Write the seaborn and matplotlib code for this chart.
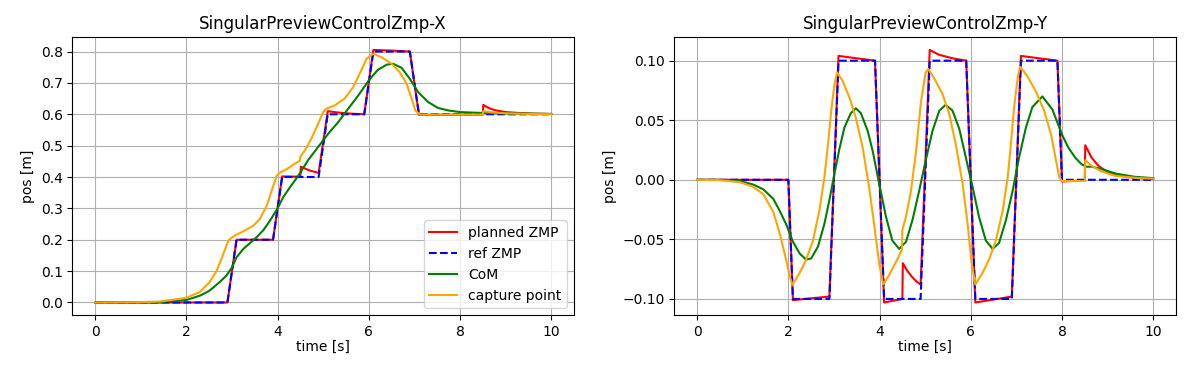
import numpy as np
import seaborn as sns
import pandas as pd
from matplotlib import pyplot as plt

# ---- X direction ----
ref_x_t = [0, 2.9, 3.1, 3.9, 4.1, 4.9, 5.1, 5.9, 6.1, 6.9, 7.1, 10]
ref_x_v = [0, 0, 0.2, 0.2, 0.4, 0.4, 0.6, 0.6, 0.8, 0.8, 0.6, 0.6]

plan_x_t = [0, 2.9, 3.1, 3.9, 4.1, 4.5, 4.51, 4.6, 4.7, 4.8, 4.9, 5.1, 5.3, 5.6, 5.9,
            6.1, 6.5, 6.9, 7.1, 8.5, 8.51, 8.6, 8.7, 8.8, 9.0, 9.3, 9.6, 10]
plan_x_v = [0, 0, 0.2, 0.2, 0.402, 0.401, 0.433, 0.427, 0.421, 0.417, 0.413, 0.61, 0.606, 0.602, 0.6,
            0.805, 0.803, 0.80, 0.598, 0.599, 0.63, 0.622, 0.616, 0.612, 0.607, 0.604, 0.602, 0.601]

com_x_t = [0, 1.0, 1.4, 2.0, 2.3, 2.5, 2.73, 2.88, 3.0, 3.1, 3.25, 3.4, 3.54, 3.69, 3.83,
           4.0, 4.12, 4.27, 4.45, 4.67, 4.89, 5.11, 5.33, 5.55, 5.77, 6.0, 6.2, 6.39, 6.53,
           6.72, 6.9, 7.08, 7.3, 7.52, 7.75, 8.0, 8.5, 9.0, 10]
com_x_v = [0, 0.0003, 0.001, 0.008, 0.022, 0.037, 0.065, 0.086, 0.112, 0.144, 0.171, 0.19, 0.208, 0.231, 0.26,
           0.3, 0.335, 0.367, 0.403, 0.454, 0.496, 0.538, 0.575, 0.618, 0.66, 0.708, 0.742, 0.758, 0.761,
           0.748, 0.713, 0.671, 0.639, 0.62, 0.612, 0.607, 0.604, 0.603, 0.601]

cp_x_t = [0, 1.0, 1.41, 2.0, 2.29, 2.51, 2.66, 2.77, 2.85, 2.92, 3.0, 3.06, 3.25, 3.47, 3.61,
          3.76, 3.87, 3.98, 4.05, 4.2, 4.34, 4.49, 4.5, 4.6, 4.74, 4.89, 5.0, 5.07, 5.25, 5.47,
          5.66, 5.8, 5.95, 6.1, 6.28, 6.5, 6.68, 6.83, 6.94, 7.02, 7.12, 7.5, 8.5, 8.51, 8.7,
          9.0, 9.5, 10]
cp_x_v = [0, 0.001, 0.003, 0.015, 0.033, 0.065, 0.10, 0.139, 0.17, 0.197, 0.207, 0.213, 0.227, 0.245, 0.266,
          0.308, 0.356, 0.404, 0.414, 0.425, 0.439, 0.452, 0.465, 0.485, 0.522, 0.57, 0.607, 0.618, 0.628, 0.65,
          0.687, 0.729, 0.777, 0.793, 0.782, 0.761, 0.734, 0.697, 0.65, 0.612, 0.599, 0.599, 0.599, 0.61, 0.606,
          0.603, 0.601, 0.6]

# ---- Y direction ----
ref_y_t = [0, 2.0, 2.1, 2.9, 3.1, 3.9, 4.1, 4.9, 5.1, 5.9, 6.1, 6.9, 7.1, 7.9, 8.0, 10]
ref_y_v = [0, 0, -0.1, -0.1, 0.1, 0.1, -0.1, -0.1, 0.1, 0.1, -0.1, -0.1, 0.1, 0.1, 0, 0]

plan_y_t = [0, 2.0, 2.1, 2.9, 3.1, 3.9, 4.1, 4.5, 4.51, 4.6, 4.7, 4.8, 4.9, 5.1, 5.3, 5.6, 5.9,
            6.1, 6.9, 7.1, 7.9, 8.0, 8.5, 8.51, 8.65, 8.8, 9.02, 9.31, 9.6, 10]
plan_y_v = [0, 0, -0.101, -0.098, 0.104, 0.1, -0.103, -0.1, -0.07, -0.076, -0.081, -0.085, -0.088,
            0.109, 0.105, 0.102, 0.1, -0.103, -0.098, 0.104, 0.1, -0.0014, -0.0005, 0.029, 0.0186,
            0.0117, 0.006, 0.0033, 0.0015, 0.0006]

com_y_t = [0, 0.5, 0.94, 1.23, 1.45, 1.67, 1.81, 1.96, 2.1, 2.25, 2.39, 2.5, 2.65, 2.79, 2.9,
           3.01, 3.12, 3.23, 3.37, 3.48, 3.59, 3.74, 3.85, 3.99, 4.14, 4.28, 4.43, 4.58, 4.72,
           4.87, 5.01, 5.16, 5.31, 5.45, 5.6, 5.75, 5.89, 6.04, 6.18, 6.33, 6.48, 6.62, 6.77,
           6.92, 7.06, 7.21, 7.35, 7.57, 7.79, 8.0, 8.14, 8.29, 8.43, 8.54, 8.65, 8.87, 9.17,
           9.6, 10]
com_y_v = [0, 0, -0.001, -0.004, -0.008, -0.016, -0.026, -0.038, -0.052, -0.062, -0.067, -0.066, -0.056,
           -0.037, -0.017, 0.005, 0.026, 0.044, 0.056, 0.06, 0.056, 0.041, 0.024, -0.003, -0.031, -0.051,
           -0.058, -0.052, -0.034, -0.009, 0.016, 0.041, 0.058, 0.063, 0.058, 0.0425, 0.019, -0.006, -0.031,
           -0.051, -0.058, -0.053, -0.034, -0.009, 0.019, 0.044, 0.061, 0.07, 0.059, 0.038, 0.027, 0.0186,
           0.013, 0.011, 0.011, 0.009, 0.0053, 0.0025, 0.0014]

cp_y_t = [0, 0.5, 0.94, 1.23, 1.45, 1.67, 1.81, 1.92, 2.03, 2.09, 2.25, 2.39, 2.54, 2.68, 2.79,
          2.87, 2.94, 3.01, 3.07, 3.19, 3.34, 3.48, 3.63, 3.77, 3.88, 3.99, 4.08, 4.21, 4.36,
          4.49, 4.5, 4.58, 4.69, 4.8, 4.91, 5.01, 5.07, 5.23, 5.38, 5.53, 5.67, 5.82, 5.93,
          6.02, 6.1, 6.26, 6.4, 6.55, 6.7, 6.81, 6.88, 6.95, 7.03, 7.08, 7.24, 7.43, 7.61,
          7.76, 7.87, 7.94, 8.0, 8.5, 8.51, 8.65, 8.87, 9.17, 9.68, 10]
cp_y_v = [0, -0.0003, -0.002, -0.006, -0.012, -0.027, -0.045, -0.062, -0.081, -0.088, -0.078, -0.067,
          -0.051, -0.026, 0.002, 0.03, 0.058, 0.08, 0.09, 0.083, 0.069, 0.052, 0.027, -0.006, -0.037,
          -0.07, -0.088, -0.08, -0.069, -0.059, -0.042, -0.031, -0.009, 0.024, 0.066, 0.09, 0.093,
          0.083, 0.072, 0.055, 0.03, -0.003, -0.037, -0.07, -0.088, -0.078, -0.067, -0.051, -0.026,
          0.002, 0.03, 0.061, 0.086, 0.095, 0.087, 0.074, 0.058, 0.038, 0.016, 0.002, -0.001, -0.001,
          0.0164, 0.0117, 0.007, 0.0033, 0.0014, 0.001]


def draw_panel(ax, series, title, legend=False):
    for t, v, label, color, ls in series:
        sns.lineplot(x=t, y=v, ax=ax, color=color, linestyle=ls, label=label,
                     estimator=None, sort=False, linewidth=1.5)
    ax.set_title(title)
    ax.set_xlabel('time [s]', labelpad=1)
    ax.set_ylabel('pos [m]')
    ax.grid(True)
    if legend:
        ax.legend(loc='lower right')
    elif ax.get_legend() is not None:
        ax.get_legend().remove()


fig, axes = plt.subplots(1, 2, figsize=(12, 3.66), dpi=100)
fig.subplots_adjust(left=0.0603, right=0.98, bottom=0.139, top=0.898, wspace=0.2)

draw_panel(axes[0], [
    (plan_x_t, plan_x_v, 'planned ZMP', 'red', '-'),
    (ref_x_t, ref_x_v, 'ref ZMP', 'blue', '--'),
    (com_x_t, com_x_v, 'CoM', 'green', '-'),
    (cp_x_t, cp_x_v, 'capture point', 'orange', '-'),
], 'SingularPreviewControlZmp-X', legend=True)

draw_panel(axes[1], [
    (plan_y_t, plan_y_v, 'planned ZMP', 'red', '-'),
    (ref_y_t, ref_y_v, 'ref ZMP', 'blue', '--'),
    (com_y_t, com_y_v, 'CoM', 'green', '-'),
    (cp_y_t, cp_y_v, 'capture point', 'orange', '-'),
], 'SingularPreviewControlZmp-Y')

fig.savefig('out.png')
